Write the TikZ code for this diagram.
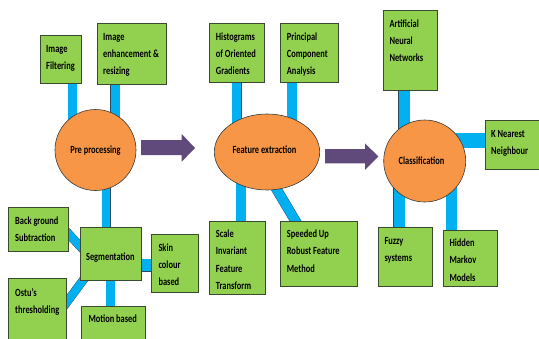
\documentclass[tikz,border=0pt]{standalone}
\usepackage{fontspec}
\usepackage{graphicx}
\setmainfont{Carlito}
\usetikzlibrary{fit,calc,shapes.geometric}
\pgfdeclarelayer{bg}
\pgfsetlayers{bg,main}
\definecolor{boxgreen}{HTML}{92D050}
\definecolor{boxline}{HTML}{3A4A30}
\definecolor{blobor}{HTML}{F79646}
\definecolor{blobline}{HTML}{3A3A3A}
\definecolor{barblue}{HTML}{00B0F0}
\definecolor{barline}{HTML}{2A4A60}
\definecolor{arrpurple}{HTML}{5F4A7B}
\newcommand\tl[1]{\scalebox{1}[1.3]{\rule{0pt}{7pt}#1}}
\begin{document}
\begin{tikzpicture}[x=1pt,y=-1pt,
  box/.style={draw=boxline, fill=boxgreen, line width=0.8pt, inner sep=0pt},
  txt/.style={anchor=north west, inner sep=0pt, align=left, font=\fontsize{8.4}{17.3}\selectfont\bfseries},
  blob/.style={draw=blobline, fill=blobor, line width=0.6pt, inner sep=0pt, font=\fontsize{8.4}{17.3}\selectfont\bfseries},
  bar/.style={draw=barline, line width=0.4pt, double=barblue, double distance=#1}]
\useasboundingbox (0,0) rectangle (539,338);
\clip (0,0) rectangle (539,338);

% --- Pre processing group
\node[blob, circle, minimum size=81pt] (pre) at (95.5,150) {\tl{Pre processing}};
\node[box, fit={(40.7,35.7) (81.3,83)}] (imgf) {};
\node[txt] (imgft) at (46,43) {\tl{Image}\\\tl{Filtering}};
\node[box, fit={(97.3,23.7) (166.7,84.7)}] (imge) {};
\node[txt] (imget) at (103,31) {\tl{Image}\\\tl{enhancement \&}\\\tl{resizing}};
\node[box, fit={(80,227) (141,280)}] (seg) {};
\node[txt, anchor=center] (segt) at (110.3,257) {\tl{Segmentation}};
\node[box, fit={(8,207.7) (68,251.7)}] (bg) {};
\node[txt] (bgt) at (15,215) {\tl{Back ground}\\\tl{Subtraction}};
\node[box, fit={(151.7,234) (198.3,292.7)}] (skin) {};
\node[txt] (skint) at (158.3,241.7) {\tl{Skin}\\\tl{colour}\\\tl{based}};
\node[box, fit={(8.3,278.3) (66.7,345)}] (ostu) {};
\node[txt] (ostut) at (15,286.7) {\tl{Ostu’s}\\\tl{thresholding}};
\node[box, fit={(81.7,306) (145,345)}] (motion) {};
\node[txt] (motiont) at (88.3,313) {\tl{Motion based}};

% --- Feature extraction group
\node[blob, ellipse, minimum width=105.4pt, minimum height=76pt] (fe) at (267,152) {};
\node[txt, anchor=center] (fet) at (264.5,148.5) {\tl{Feature extraction}};
\node[box, fit={(209.3,23.7) (264,82.7)}] (hog) {};
\node[txt] (hogt) at (215.7,30.7) {\tl{Histograms}\\\tl{of Oriented}\\\tl{Gradients}};
\node[box, fit={(280.7,23.7) (338.3,82.7)}] (pca) {};
\node[txt] (pcat) at (286.7,30.7) {\tl{Principal}\\\tl{Component}\\\tl{Analysis}};
\node[box, fit={(209.3,221.7) (265.7,294)}] (sift) {};
\node[txt] (siftt) at (215.7,228.3) {\tl{Scale}\\\tl{Invariant}\\\tl{Feature}\\\tl{Transform}};
\node[box, fit={(280.7,221.7) (357.3,286)}] (surf) {};
\node[txt] (surft) at (286.7,228.3) {\tl{Speeded Up}\\\tl{Robust Feature}\\\tl{Method}};

% --- Classification group
\node[blob, circle, minimum size=82pt] (cls) at (424.7,161) {};
\node[txt, anchor=center] (clst) at (421.5,160) {\tl{Classification}};
\node[box, fit={(383.3,10.3) (437.7,90.7)}] (ann) {};
\node[txt] (annt) at (389.3,17.7) {\tl{Artificial}\\\tl{Neural}\\\tl{Networks}};
\node[box, fit={(485.7,120.7) (541,169.3)}] (knn) {};
\node[txt] (knnt) at (491,128.3) {\tl{K Nearest}\\\tl{Neighbour}};
\node[box, fit={(378.3,227.3) (432.7,286)}] (fuzzy) {};
\node[txt] (fuzzyt) at (384.3,235) {\tl{Fuzzy}\\\tl{systems}};
\node[box, fit={(443.3,230) (497.7,286)}] (hmm) {};
\node[txt] (hmmt) at (449.3,237.3) {\tl{Hidden}\\\tl{Markov}\\\tl{Models}};

% --- connectors (behind)
\begin{pgfonlayer}{bg}
\draw[bar=9pt] ([xshift=11.5pt]imgf.south) -- ([xshift=11.5pt]imgf.south |- pre.center);
\draw[bar=9pt] ([xshift=-17pt]imge.south) -- ([xshift=-17pt]imge.south |- pre.center);
\draw[bar=8.5pt] ([xshift=-4.3pt]seg.center) -- ([xshift=-4.3pt]seg.center |- pre.center);
\draw[bar=12pt] ([yshift=-11.8pt]seg.center) -- ([yshift=-11.8pt]seg.center -| skin.center);
\draw[bar=8.5pt] (seg.center) -- (seg.center |- motion.center);
\draw[bar=8pt] ($(bg.east)+(-3.9,-0.3)$) -- ($(bg.east)+(17.7,23.1)$);
\draw[bar=8pt] ($(seg.south west)+(-16.6,27)$) -- ($(seg.south west)+(8.3,-6.7)$);
\draw[bar=9.5pt] (hog.south) -- (hog.south |- fe.center);
\draw[bar=9.5pt] ([xshift=-17.7pt]pca.south) -- ([xshift=-17.7pt]pca.south |- fe.center);
\draw[bar=9.5pt] ([xshift=3.3pt]sift.north) -- ([xshift=3.3pt]sift.north |- fe.center);
\draw[bar=9.5pt] ($(surf.north west)+(-14.7,-50.5)$) -- ($(surf.north west)+(17.3,3.3)$);
\draw[bar=11pt] ([xshift=-6.3pt]ann.south) -- ([xshift=-6.3pt]ann.south |- cls.center);
\draw[bar=14.5pt] ([yshift=4.5pt]knn.center) -- ([yshift=4.5pt]knn.center -| cls.center);
\draw[bar=11pt] ([xshift=-6.3pt]fuzzy.north) -- ([xshift=-6.3pt]fuzzy.north |- cls.center);
\draw[bar=11pt] ([xshift=-19pt]hmm.north) -- ([xshift=-19pt]hmm.north |- cls.center);
\end{pgfonlayer}

% --- block arrows
\fill[arrpurple] (141,140) -- (181.7,140) -- (181.7,134) -- (195,148) -- (181.7,161.7) -- (181.7,155) -- (141,155) -- cycle;
\fill[arrpurple] (325,149) -- (365,149) -- (365,143.3) -- (378.3,156.5) -- (365,170) -- (365,163.3) -- (325,163.3) -- cycle;
\end{tikzpicture}
\end{document}
